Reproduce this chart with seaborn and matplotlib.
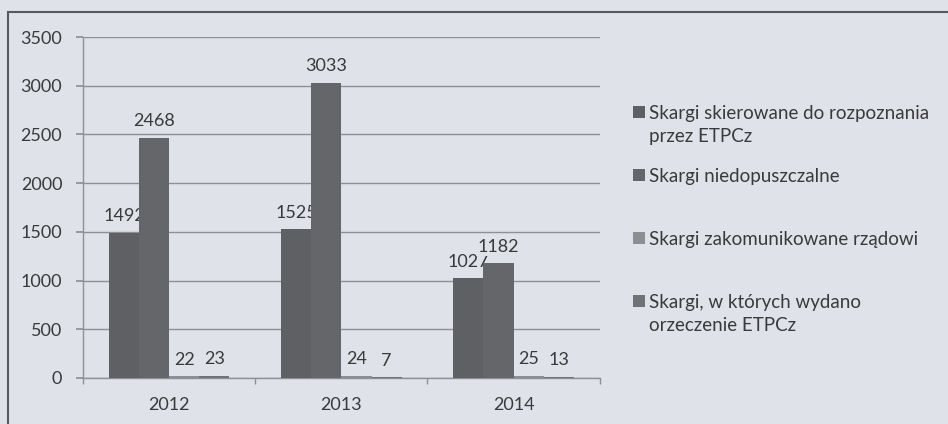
import pandas as pd
import matplotlib.pyplot as plt
import seaborn as sns
from matplotlib.patches import Rectangle
from matplotlib.legend_handler import HandlerPatch

# data
years = ["2012", "2013", "2014"]
series = [
    "Skargi skierowane do rozpoznania\nprzez ETPCz",
    "Skargi niedopuszczalne",
    "Skargi zakomunikowane rządowi",
    "Skargi, w których wydano\norzeczenie ETPCz",
]
skierowane = [1492, 1525, 1027]
niedopuszczalne = [2468, 3033, 1182]
zakomunikowane = [22, 24, 25]
orzeczenia = [23, 7, 13]

values = [skierowane, niedopuszczalne, zakomunikowane, orzeczenia]
rows = []
for name, vals in zip(series, values):
    for y, v in zip(years, vals):
        rows.append({"rok": y, "seria": name, "liczba": v})
df = pd.DataFrame(rows)

bg = "#dfe2e8"
txt = "#3a3a3a"
grid_c = "#8e9096"
palette = ["#5e6064", "#646669", "#8c8e92", "#707276"]
legend_fs = 13.5

sns.set_theme(style="white")
plt.rcParams["font.family"] = ["Lato", "DejaVu Sans"]

fig = plt.figure(figsize=(9.48, 4.24), dpi=100, facecolor=bg)
ax = fig.add_axes([0.0876, 0.1085, 0.545, 0.804])
ax.set_facecolor(bg)

sns.barplot(data=df, x="rok", y="liczba", hue="seria", hue_order=series,
            palette=palette, width=0.7, saturation=1, ax=ax, zorder=3,
            edgecolor="none", linewidth=0)

# labels sit under the bars, so a neighbouring bar can hide part of one
for cont in ax.containers:
    ax.bar_label(cont, padding=6, fontsize=13, color=txt, zorder=2.5,
                 bbox=dict(facecolor=bg, edgecolor="none", pad=1.0))

ax.set_ylim(0, 3500)
ax.set_yticks(range(0, 3501, 500))
ax.set_xlim(-0.5, 2.5)
ax.set_xlabel("")
ax.set_ylabel("")
ax.yaxis.grid(True, color=grid_c, linewidth=1, zorder=1)
ax.set_axisbelow(True)
for s in ["top", "right"]:
    ax.spines[s].set_visible(False)
for s in ["left", "bottom"]:
    ax.spines[s].set_color(grid_c)
    ax.spines[s].set_linewidth(1)
ax.tick_params(axis="y", length=5, pad=10, color=grid_c, direction="out",
               labelsize=13, labelcolor=txt, left=True)
ax.tick_params(axis="x", which="major", length=0, pad=14,
               labelsize=13, labelcolor=txt)
ax.set_xticks([-0.5, 0.5, 1.5, 2.5], minor=True)
ax.tick_params(axis="x", which="minor", length=4, color=grid_c, bottom=True)


# legend square sits next to the first text line, like in Excel
def top_square(legend, orig_handle, xdescent, ydescent, width, height, fontsize):
    shift = 0.7 * fontsize
    return Rectangle((-xdescent, -ydescent + shift), width, height)


handles, labels = ax.get_legend_handles_labels()
labels = [lab if "\n" in lab else lab + "\n" for lab in labels]
leg = ax.legend(handles, labels, loc="upper left", bbox_to_anchor=(0.668, 0.752),
                bbox_transform=fig.transFigure, frameon=False, fontsize=legend_fs,
                handlelength=0.6, handleheight=0.6, handletextpad=0.25,
                labelspacing=1.25, borderpad=0, borderaxespad=0, labelcolor=txt,
                handler_map={Rectangle: HandlerPatch(patch_func=top_square)})
for t in leg.get_texts():
    t.set_linespacing(1.4)

fig.add_artist(Rectangle((8 / 948, -0.05), 1.1, 1 - 12 / 424 + 0.05,
                         transform=fig.transFigure, fill=False,
                         edgecolor="#555a60", linewidth=1.5))

fig.savefig("out.png", dpi=100, facecolor=bg)
